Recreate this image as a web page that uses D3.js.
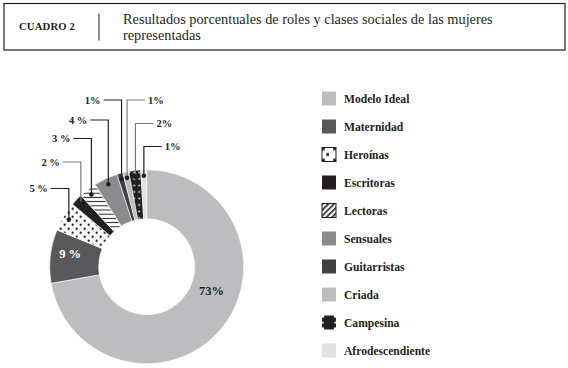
<!DOCTYPE html>
<html>
<head>
<meta charset="utf-8">
<script src="https://cdn.jsdelivr.net/npm/d3@7"></script>
<style>
  html, body { margin: 0; padding: 0; background: #fff; }
  svg { display: block; }
  text { font-family: "Liberation Serif", "DejaVu Serif", serif; fill: #231f20; }
</style>
</head>
<body>
<svg id="chart" width="568" height="368"></svg>
<script>
// ---- data ----
const categories = ["Modelo Ideal", "Maternidad", "Heroínas", "Escritoras", "Lectoras",
                    "Sensuales", "Guitarristas", "Criada", "Campesina", "Afrodescendiente"];
const values = [73, 9, 5, 2, 3, 4, 1, 1, 2, 1];
const valueLabels = ["73%", "9 %", "5 %", "2 %", "3 %", "4 %", "1%", "1%", "2%", "1%"];
const fills = ["#bdbdbf", "#58585a", "url(#dots)", "#231f20", "url(#hlines)",
               "#8b8b8d", "#414143", "#bdbdbf", "url(#campesina)", "#e2e2e2"];
const legendFills = ["#bdbdbf", "#58585a", "url(#heroLegend)", "#231f20", "url(#diag)",
                     "#8b8b8d", "#414143", "#bdbdbf", "url(#campLegend)", "#e2e2e2"];
const titleCode = "CUADRO 2";
const titleLines = ["Resultados porcentuales de roles y clases sociales de las mujeres", "representadas"];

// ---- layout ----
const W = 568, H = 368;
const cx = 146.7, cy = 266.7, rOuter = 97, rInner = 48;
// callouts: index -> label y, side, line colour
const callouts = {
  2: { y: 188.5, side: "left",  color: "#231f20" },
  3: { y: 162,   side: "left",  color: "#7a7a7c" },
  4: { y: 138.5, side: "left",  color: "#231f20" },
  5: { y: 120,   side: "left",  color: "#231f20" },
  6: { y: 100,   side: "left",  color: "#231f20" },
  7: { y: 100,   side: "right", color: "#7a7a7c" },
  8: { y: 123.5, side: "right", color: "#7a7a7c" },
  9: { y: 146.5, side: "right", color: "#231f20" }
};

const svg = d3.select("#chart");
const defs = svg.append("defs");

// patterns
const pDots = defs.append("pattern").attr("id", "dots").attr("patternUnits", "userSpaceOnUse")
  .attr("width", 8).attr("height", 8);
pDots.append("rect").attr("width", 8).attr("height", 8).attr("fill", "#fff");
pDots.append("circle").attr("cx", 2).attr("cy", 2).attr("r", 1.2).attr("fill", "#231f20");
pDots.append("circle").attr("cx", 6).attr("cy", 6).attr("r", 1.2).attr("fill", "#231f20");

const pH = defs.append("pattern").attr("id", "hlines").attr("patternUnits", "userSpaceOnUse")
  .attr("width", 6).attr("height", 4.2);
pH.append("rect").attr("width", 6).attr("height", 4.2).attr("fill", "#fff");
pH.append("rect").attr("y", 1.6).attr("width", 6).attr("height", 1).attr("fill", "#231f20");

const pC = defs.append("pattern").attr("id", "campesina").attr("patternUnits", "userSpaceOnUse")
  .attr("width", 5).attr("height", 6.5);
pC.append("rect").attr("width", 5).attr("height", 6.5).attr("fill", "#231f20");
pC.append("circle").attr("cx", 2.5).attr("cy", 3.2).attr("r", 0.9).attr("fill", "#fff");

const pD = defs.append("pattern").attr("id", "diag").attr("patternUnits", "userSpaceOnUse")
  .attr("width", 4).attr("height", 4).attr("patternTransform", "rotate(45)");
pD.append("rect").attr("width", 4).attr("height", 4).attr("fill", "#fff");
pD.append("rect").attr("width", 1.6).attr("height", 4).attr("fill", "#231f20");

const pHL = defs.append("pattern").attr("id", "heroLegend").attr("patternUnits", "objectBoundingBox")
  .attr("width", 1).attr("height", 1).attr("patternContentUnits", "objectBoundingBox");
pHL.append("rect").attr("width", 1).attr("height", 1).attr("fill", "#fff");
[[0.3, 0.4], [0, 0], [0.8, 0], [0, 0.8], [0.8, 0.8]].forEach(p =>
  pHL.append("rect").attr("x", p[0]).attr("y", p[1]).attr("width", 0.2).attr("height", 0.2).attr("fill", "#231f20"));

const pCL = defs.append("pattern").attr("id", "campLegend").attr("patternUnits", "objectBoundingBox")
  .attr("width", 1).attr("height", 1).attr("patternContentUnits", "objectBoundingBox");
pCL.append("rect").attr("width", 1).attr("height", 1).attr("fill", "#231f20");
[[0, 0, 0.15], [0.85, 0, 0.15], [0, 0.85, 0.15], [0.85, 0.85, 0.15], [0, 0.45, 0.12], [0.88, 0.45, 0.12]].forEach(p =>
  pCL.append("rect").attr("x", p[0]).attr("y", p[1]).attr("width", p[2]).attr("height", p[2]).attr("fill", "#fff"));

// ---- header ----
const header = svg.append("g");
header.append("rect").attr("x", 4).attr("y", 3.5).attr("width", 561).attr("height", 46.5)
  .attr("fill", "none").attr("stroke", "#231f20").attr("stroke-width", 1.2);
header.append("text").attr("x", 19).attr("y", 29.5)
  .attr("font-size", 10.6).attr("font-weight", "bold").attr("letter-spacing", 0.2)
  .text(titleCode);
header.append("line").attr("x1", 99).attr("x2", 99).attr("y1", 13.5).attr("y2", 40.5)
  .attr("stroke", "#231f20").attr("stroke-width", 1);
header.selectAll("text.t").data(titleLines).join("text").attr("class", "t")
  .attr("x", 123).attr("y", (d, i) => 23.5 + i * 16)
  .attr("font-size", 14.3).text(d => d);

// ---- donut ----
const pie = d3.pie().sort(null).value(d => d);
const arcs = pie(values);
const arc = d3.arc().innerRadius(rInner).outerRadius(rOuter);
const g = svg.append("g").attr("transform", `translate(${cx},${cy})`);
g.selectAll("path").data(arcs).join("path")
  .attr("d", arc)
  .attr("fill", (d, i) => fills[i])
  .attr("stroke", "#fff").attr("stroke-width", 0.6);

// inside labels
const labelArc = d3.arc().innerRadius(76).outerRadius(76);
const bigAngle = 110 * Math.PI / 180, bigR = 69;
g.append("text")
  .attr("x", bigR * Math.sin(bigAngle)).attr("y", -bigR * Math.cos(bigAngle))
  .attr("text-anchor", "middle").attr("dy", "0.35em")
  .attr("font-size", 12.5).attr("font-weight", "bold").attr("fill", "#3a3a3c")
  .text(valueLabels[0]);
const mc = labelArc.centroid(arcs[1]);
g.append("text").attr("x", mc[0] - 1).attr("y", mc[1] - 5)
  .attr("text-anchor", "middle").attr("dy", "0.35em")
  .attr("font-size", 12.5).attr("font-weight", "bold").style("fill", "#fff")
  .text(valueLabels[1]);

// callouts
const dotR = 91, lineLen = 18;
Object.keys(callouts).forEach(k => {
  const i = +k, c = callouts[k], a = arcs[i];
  const mid = (a.startAngle + a.endAngle) / 2;
  const dx = cx + dotR * Math.sin(mid), dy = cy - dotR * Math.cos(mid);
  const ly = c.y;
  const x2 = c.side === "left" ? dx - lineLen : dx + lineLen;
  svg.append("path")
    .attr("d", `M${dx},${dy}V${ly}H${x2}`)
    .attr("fill", "none").attr("stroke", c.color).attr("stroke-width", 1.2);
  svg.append("circle").attr("cx", dx).attr("cy", dy).attr("r", 2.3).attr("fill", "#231f20");
  svg.append("text")
    .attr("x", c.side === "left" ? x2 - 3 : x2 + 3)
    .attr("y", ly).attr("dy", "0.35em")
    .attr("text-anchor", c.side === "left" ? "end" : "start")
    .attr("font-size", 10.5).attr("font-weight", "bold")
    .text(valueLabels[i]);
});

// ---- legend ----
const legendY = d3.scaleBand().domain(categories).range([91.5, 91.5 + 28 * categories.length]);
const lg = svg.append("g");
const rows = lg.selectAll("g").data(categories).join("g")
  .attr("transform", d => `translate(322,${legendY(d)})`);
rows.append("rect").attr("width", 14).attr("height", 14)
  .attr("fill", (d, i) => legendFills[i])
  .attr("stroke", (d, i) => (i === 2 || i === 4) ? "#231f20" : "none")
  .attr("stroke-width", 1);
rows.append("text").attr("x", 22).attr("y", 7).attr("dy", "0.35em")
  .attr("font-size", 11.6).attr("font-weight", "bold")
  .text(d => d);
</script>
</body>
</html>
